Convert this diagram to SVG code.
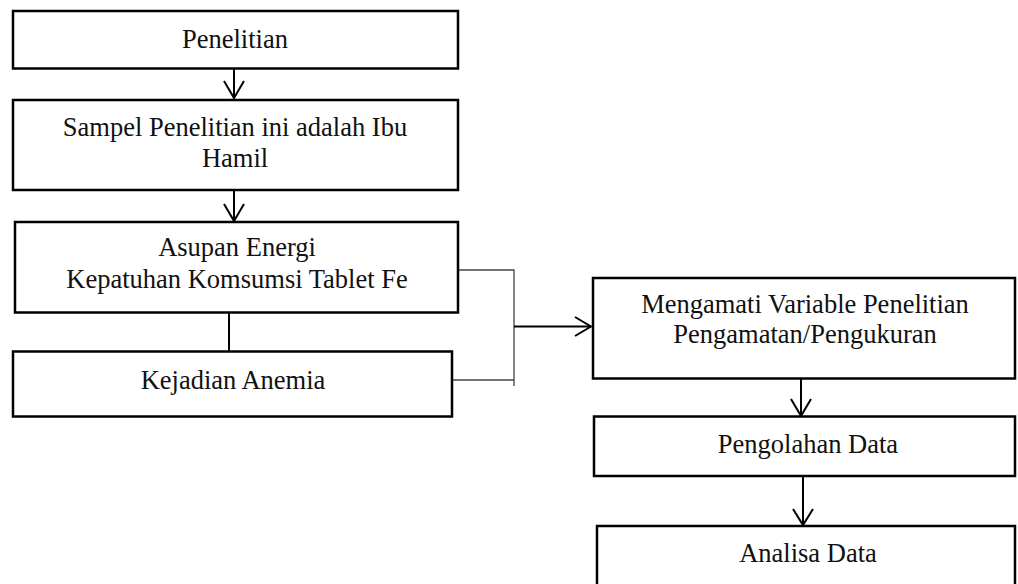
<svg xmlns="http://www.w3.org/2000/svg" width="1018" height="584" viewBox="0 0 1018 584">
<style>
.box{fill:#fff;stroke:#000;stroke-width:2.5}
.t{font-family:"Liberation Serif","Times New Roman",serif;font-size:26.5px;fill:#111;text-anchor:middle}
.ln{stroke:#000;stroke-width:2;fill:none}
.thin{stroke:#444;stroke-width:1.3;fill:none}
.ah{stroke:#000;stroke-width:2;fill:none;stroke-linejoin:miter}
</style>
<rect width="1018" height="584" fill="#fff"/>
<g id="connectors">
<line class="ln" x1="234" y1="69" x2="234" y2="98"/>
<polyline class="ah" points="224,81 234,98 244,81"/>
<line class="ln" x1="234" y1="191" x2="234" y2="221"/>
<polyline class="ah" points="224,204 234,221 244,204"/>
<line class="ln" x1="229" y1="307" x2="229" y2="351"/>
<polyline class="thin" points="456,270 514,270 514,386"/>
<line class="thin" x1="453" y1="380" x2="514" y2="380"/>
<line class="ln" x1="514" y1="326.5" x2="591" y2="326.5"/>
<polyline class="ah" points="575,317 591,326.5 575,336"/>
<line class="ln" x1="801" y1="372" x2="801" y2="416"/>
<polyline class="ah" points="791,399 801,416 811,399"/>
<line class="ln" x1="803" y1="472" x2="803" y2="525"/>
<polyline class="ah" points="793,509 803,525 813,509"/>
</g>
<g id="n1"><rect class="box" x="13" y="11" width="445" height="57.5"/><text class="t" x="235" y="47.5">Penelitian</text></g>
<g id="n2"><rect class="box" x="13" y="100" width="445" height="90"/><text class="t" x="235" y="135.5">Sampel Penelitian ini adalah Ibu</text><text class="t" x="235" y="167">Hamil</text></g>
<g id="n3"><rect class="box" x="15" y="222" width="443" height="90.5"/><text class="t" x="237" y="256">Asupan Energi</text><text class="t" x="237" y="288">Kepatuhan Komsumsi Tablet Fe</text></g>
<g id="n4"><rect class="box" x="13" y="351.5" width="439" height="65"/><text class="t" x="233" y="388.5">Kejadian Anemia</text></g>
<g id="n5"><rect class="box" x="593" y="278" width="422" height="100.5"/><text class="t" x="805" y="313">Mengamati Variable Penelitian</text><text class="t" x="805" y="343">Pengamatan/Pengukuran</text></g>
<g id="n6"><rect class="box" x="594" y="416.5" width="421" height="59.5"/><text class="t" x="808" y="452.5">Pengolahan Data</text></g>
<g id="n7"><rect class="box" x="597" y="526" width="418" height="70"/><text class="t" x="808" y="562">Analisa Data</text></g>
</svg>
